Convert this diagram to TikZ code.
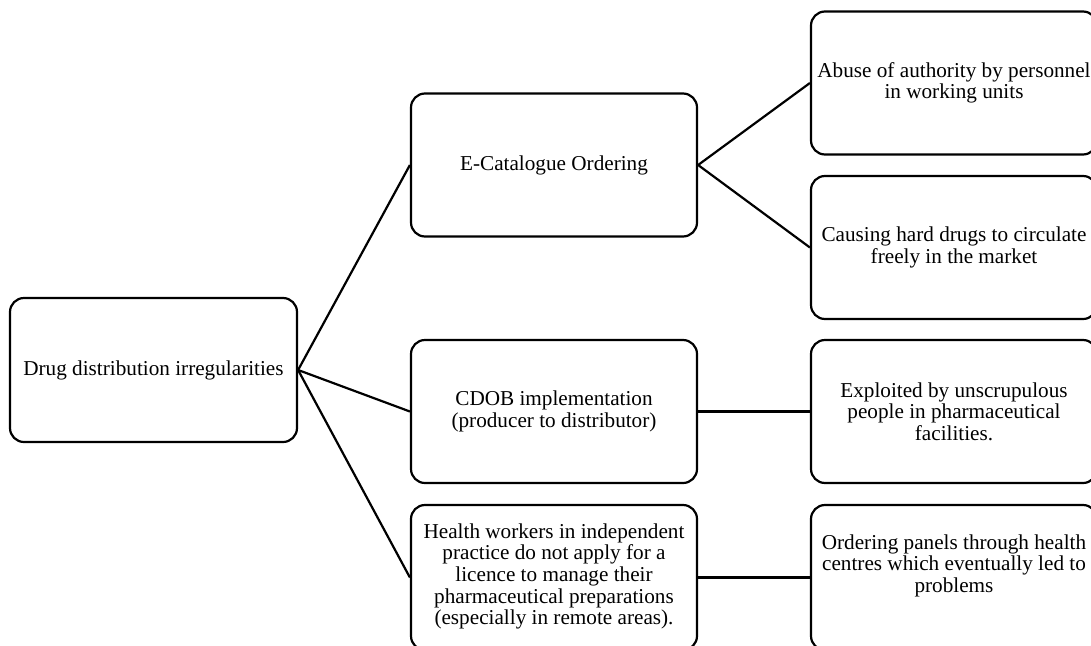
\documentclass[tikz,border=0pt]{standalone}
\usepackage{fontspec}
\setmainfont{Liberation Serif}
\begin{document}
\begin{tikzpicture}[x=1pt,y=-1pt,
  box/.style={draw=black, line width=2.2pt, rounded corners=14pt,
    minimum width=286pt, minimum height=143pt, align=center, inner sep=0pt,
    font=\fontsize{21.2}{21.6}\selectfont},
  txt/.style={align=center, inner sep=0pt, font=\fontsize{21.2}{21.6}\selectfont},
  link/.style={draw=black, line width=2.2pt}]
\useasboundingbox (0,0) rectangle (1091,645);
\node[box, minimum width=287pt, minimum height=144pt] (root) at (153.5,370) {Drug distribution irregularities};
\node[box] (m1) at (554,165) {E-Catalogue Ordering};
\node[box] (m2) at (554,411.5) {CDOB implementation\\(producer to distributor)};
\node[box, minimum height=145pt] (m3) at (554,577.5) {};
\node[txt] (m3t) at ([yshift=1pt]m3.center) {Health workers in independent\\practice do not apply for a\\licence to manage their\\pharmaceutical preparations\\(especially in remote areas).};
\node[box] (r1) at (954,83) {Abuse of authority by personnel\\in working units};
\node[box] (r2) at (954,247.5) {Causing hard drugs to circulate\\freely in the market};
\node[box] (r3) at (954,411.5) {Exploited by unscrupulous\\people in pharmaceutical\\facilities.};
\node[box, minimum height=145pt] (r4) at (954,577.5) {};
\node[txt] (r4t) at ([yshift=12pt]r4.center) {Ordering panels through health\\centres which eventually led to\\problems};
\draw[link] (root.east) -- (m1.west);
\draw[link] (root.east) -- (m2.west);
\draw[link] (root.east) -- (m3.west);
\draw[link] (m1.east) -- (r1.west);
\draw[link] (m1.east) -- (r2.west);
\draw[link] (m2.east) -- (r3.west);
\draw[link] (m3.east) -- (r4.west);
\end{tikzpicture}
\end{document}
